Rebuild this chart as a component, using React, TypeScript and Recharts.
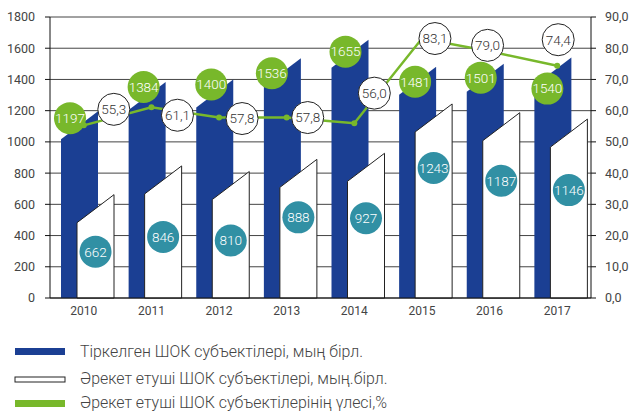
import { Bar, CartesianGrid, ComposedChart, LabelList, Line, XAxis, YAxis } from "recharts";

const years = ["2010", "2011", "2012", "2013", "2014", "2015", "2016", "2017"];
const registered = [1197, 1384, 1400, 1536, 1655, 1481, 1501, 1540];
const active = [662, 846, 810, 888, 927, 1243, 1187, 1146];
const activeShare = [55.3, 61.1, 57.8, 57.8, 56.0, 83.1, 79.0, 74.4];
const leftTicks = [0, 200, 400, 600, 800, 1000, 1200, 1400, 1600, 1800];
const rightTicks = [0, 10, 20, 30, 40, 50, 60, 70, 80, 90];
const legendNames = [
  "Тіркелген ШОК субъектілері, мың бірл.",
  "Әрекет етуші ШОК субъектілері, мың.бірл.",
  "Әрекет етуші ШОК субъектілерінің үлесі,%",
];

const data = years.map((year, i) => ({
  year,
  registered: registered[i],
  active: active[i],
  share: activeShare[i],
}));

const BLUE = "#1b3f93";
const GREEN = "#78b82b";
const TEAL = "#3190a4";
const FONT = "Roboto, 'Noto Sans', sans-serif";
const SLANT = 28;
const SHIFT = 4; // bar pair sits a little right of the band centre
const R = 16;

// hand placed label nudges (the original moved them to avoid overlaps)
const greenNudge = [[9, 7], [15, 5], [15, 5], [8, 15], [14, 12], [16, 15], [14, 14], [13, 31]];
const tealNudge = [57, 71, 69, 58, 65, 64, 68, 71];
const shareNudge = [[30, -16], [26, 8], [23, 1], [21, 0], [20, -30], [13, 0], [-2, -6], [1, -26]];

const comma = (v: number) => v.toFixed(1).replace(".", ",");

function SlantBar(props: any) {
  const { y, width, height, fill, stroke } = props;
  const x = props.x + SHIFT;
  const bottom = y + height;
  const low = Math.min(y + SLANT, bottom);
  return (
    <path
      d={`M${x},${bottom} L${x},${low} L${x + width},${y} L${x + width},${bottom} Z`}
      fill={fill}
      stroke={stroke}
      strokeWidth={stroke ? 1 : 0}
    />
  );
}

function Bubble({ cx, cy, fill, stroke, color, text }: any) {
  return (
    <g>
      <circle cx={cx} cy={cy} r={R} fill={fill} stroke={stroke || "none"} strokeWidth={1} />
      <text x={cx} y={cy} dy="0.36em" textAnchor="middle" fontSize={13.5} fontWeight={300} fontFamily={FONT} fill={color}>
        {text}
      </text>
    </g>
  );
}

const greenLabel = (p: any) => {
  const [dx, dy] = greenNudge[p.index];
  return <Bubble cx={p.x + SHIFT + dx} cy={p.y + dy} fill={GREEN} color="#fff" text={p.value} />;
};

const tealLabel = (p: any) => (
  <Bubble cx={p.x + SHIFT + p.width / 2} cy={p.y + tealNudge[p.index]} fill={TEAL} color="#fff" text={p.value} />
);

const shareLabel = (p: any) => {
  const [dx, dy] = shareNudge[p.index];
  return <Bubble cx={p.x + dx} cy={p.y + dy} fill="#fff" stroke="#222" color="#333" text={comma(p.value)} />;
};

function LegendBox() {
  const swatches = [
    { fill: BLUE, stroke: "none", y: 18, h: 7, base: 27 },
    { fill: "#fff", stroke: "#222", y: 47, h: 5, base: 54 },
    { fill: GREEN, stroke: "none", y: 70, h: 7, base: 78 },
  ];
  return (
    <svg width={630} height={82} style={{ position: "absolute", left: 0, top: 330 }}>
      {legendNames.map((name, i) => (
        <g key={name}>
          <rect x={15} y={swatches[i].y} width={50} height={swatches[i].h} fill={swatches[i].fill} stroke={swatches[i].stroke} />
          <text x={80} y={swatches[i].base} fontSize={15.9} fontWeight={300} fontFamily={FONT} fill="#444">
            {name}
          </text>
        </g>
      ))}
    </svg>
  );
}

export default function App() {
  return (
    <div style={{ position: "absolute", left: 0, top: 0, width: 630, height: 412, background: "#fff", overflow: "hidden" }}>
      <ComposedChart
        width={630}
        height={330}
        data={data}
        margin={{ top: 17, right: 0, bottom: 0, left: 0 }}
        barSize={37}
        barGap={-21}
        barCategoryGap={0}
      >
        <CartesianGrid yAxisId="left" vertical={false} stroke="#444" />
        <XAxis
          dataKey="year"
          height={32}
          axisLine={{ stroke: "#111" }}
          tickLine={false}
          tick={{ fontSize: 12, fontFamily: FONT, fill: "#444" }}
        />
        <YAxis
          yAxisId="left"
          width={50}
          domain={[0, 1800]}
          ticks={leftTicks}
          interval={0}
          axisLine={{ stroke: "#111" }}
          tickLine={{ stroke: "#111" }}
          tickSize={5}
          tickMargin={10}
          tick={{ fontSize: 12.5, fontFamily: FONT, fill: "#444" }}
        />
        <YAxis
          yAxisId="right"
          orientation="right"
          width={39}
          domain={[0, 90]}
          ticks={rightTicks}
          interval={0}
          tickFormatter={comma}
          axisLine={{ stroke: "#111" }}
          tickLine={{ stroke: "#111" }}
          tickSize={5}
          tickMargin={9}
          tick={{ fontSize: 12.5, fontFamily: FONT, fill: "#444" }}
        />
        <Bar yAxisId="left" dataKey="registered" fill={BLUE} shape={<SlantBar />} isAnimationActive={false}>
          <LabelList dataKey="registered" content={greenLabel} />
        </Bar>
        <Bar yAxisId="left" dataKey="active" fill="#fff" stroke="#222" shape={<SlantBar />} isAnimationActive={false}>
          <LabelList dataKey="active" content={tealLabel} />
        </Bar>
        <Line
          yAxisId="right"
          dataKey="share"
          stroke={GREEN}
          strokeWidth={2.5}
          dot={{ r: 3, fill: GREEN, stroke: GREEN, strokeWidth: 0 }}
          isAnimationActive={false}
        >
          <LabelList dataKey="share" content={shareLabel} />
        </Line>
      </ComposedChart>
      <LegendBox />
    </div>
  );
}
